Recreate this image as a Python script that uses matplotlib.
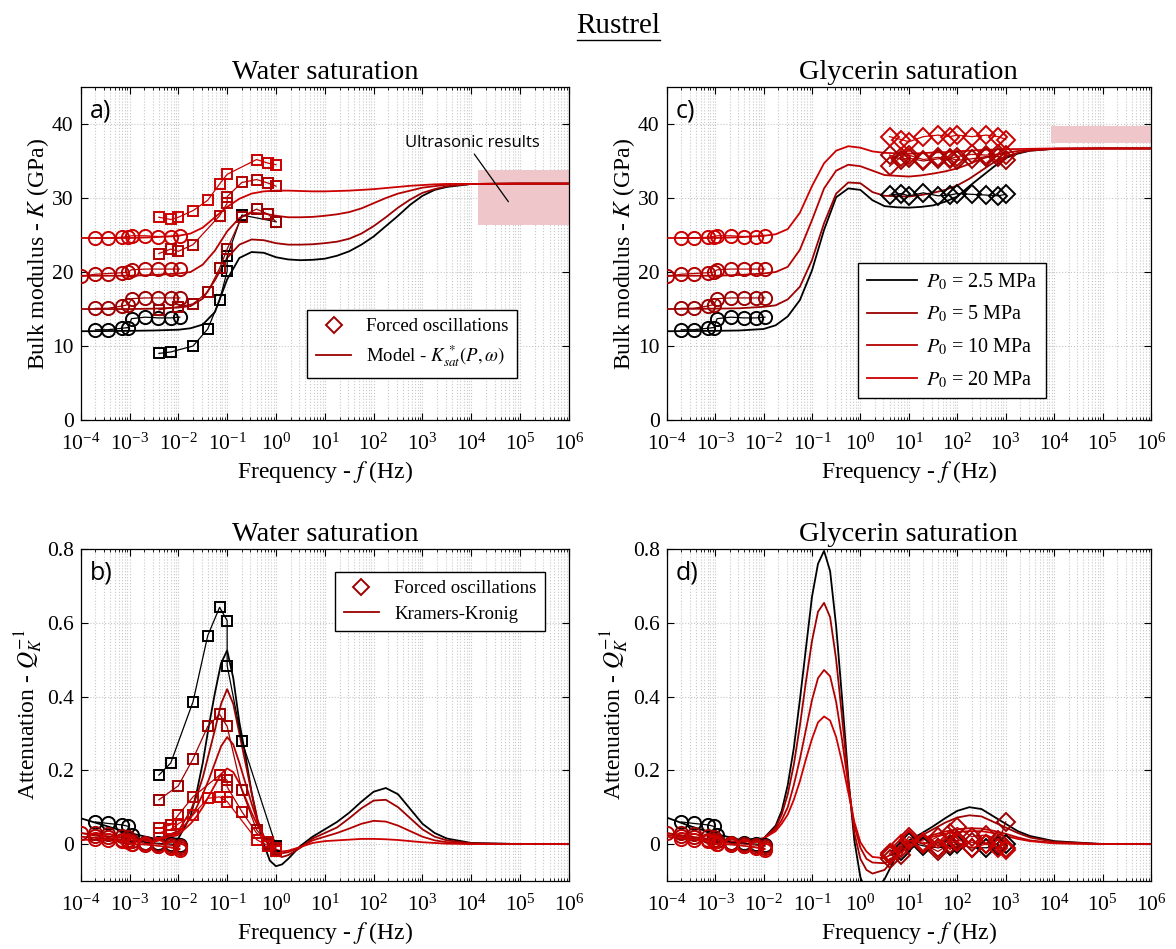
import numpy as np
import matplotlib
matplotlib.use("Agg")
import matplotlib.pyplot as plt
import matplotlib.ticker as ticker
from matplotlib.lines import Line2D
from matplotlib.patches import Rectangle

plt.rcParams["font.family"] = ["Liberation Serif", "DejaVu Serif"]
plt.rcParams["mathtext.fontset"] = "stix"
plt.rcParams["xtick.direction"] = "in"
plt.rcParams["ytick.direction"] = "in"
plt.rcParams["xtick.top"] = True
plt.rcParams["ytick.right"] = True

PRESSURES = ["2.5", "5", "10", "20"]
COLORS = ["#000000", "#9c0000", "#b40000", "#cc0000"]

# ---- model curves (log10 of frequency in Hz) ----
LOGF_K = [-4, -3, -2.5, -2, -1.75, -1.5, -1.25, -1, -0.75, -0.5, -0.25, 0,
          0.25, 0.5, 0.75, 1, 1.25, 1.5, 1.75, 2, 2.25, 2.5, 2.75, 3, 3.25,
          3.5, 4, 5, 6]

K_WATER_MODEL = [
    [12.0, 12.05, 12.1, 12.2, 12.4, 12.9, 14.6, 19.0, 21.9, 22.7, 22.6, 22.0,
     21.7, 21.6, 21.65, 21.8, 22.2, 22.8, 23.7, 24.8, 26.2, 27.6, 29.1, 30.3,
     31.1, 31.5, 31.9, 31.95, 31.95],
    [15.0, 15.0, 15.05, 15.2, 15.4, 16.4, 18.9, 21.9, 23.7, 24.4, 24.3, 23.9,
     23.7, 23.7, 23.75, 23.9, 24.1, 24.5, 25.2, 26.2, 27.4, 28.7, 29.8, 30.7,
     31.2, 31.6, 31.9, 31.95, 31.95],
    [19.5, 19.5, 19.6, 19.8, 20.0, 21.0, 22.9, 25.5, 27.3, 28.0, 27.9, 27.6,
     27.4, 27.4, 27.45, 27.6, 27.8, 28.1, 28.6, 29.3, 30.0, 30.6, 31.0, 31.4,
     31.6, 31.8, 31.9, 31.95, 31.95],
    [24.6, 24.6, 24.7, 24.9, 25.2, 26.0, 27.4, 28.8, 29.9, 30.6, 30.9, 31.0,
     31.0, 30.95, 30.9, 30.9, 30.95, 31.0, 31.1, 31.2, 31.35, 31.5, 31.65, 31.75,
     31.85, 31.9, 31.9, 31.95, 31.95],
]

K_GLYC_MODEL = [
    [12.0, 12.05, 12.1, 12.3, 12.8, 14.0, 16.2, 20.2, 25.7, 30.1, 31.3, 31.1,
     29.7, 28.9, 28.75, 28.7, 28.8, 29.0, 29.5, 30.2, 31.6, 32.9, 34.2, 35.4,
     36.0, 36.4, 36.65, 36.7, 36.7],
    [15.0, 15.05, 15.1, 15.3, 15.5, 16.3, 18.0, 21.6, 26.6, 30.6, 32.1, 32.0,
     30.8, 30.3, 30.25, 30.2, 30.4, 30.7, 31.1, 31.7, 32.6, 33.7, 34.8, 35.6,
     36.1, 36.4, 36.65, 36.7, 36.7],
    [19.5, 19.5, 19.6, 19.8, 20.0, 20.7, 23.0, 27.0, 31.3, 33.7, 34.5, 34.3,
     33.7, 33.1, 33.0, 32.9, 33.05, 33.3, 33.6, 34.0, 34.6, 35.3, 35.8, 36.1,
     36.35, 36.5, 36.65, 36.7, 36.7],
    [24.6, 24.6, 24.7, 24.9, 25.1, 25.8, 28.0, 31.6, 34.7, 36.4, 37.0, 36.8,
     36.3, 36.1, 36.05, 36.0, 36.05, 36.15, 36.2, 36.3, 36.4, 36.5, 36.55, 36.6,
     36.62, 36.65, 36.7, 36.7, 36.7],
]

LOGF_Q = [-4, -3.5, -3, -2.5, -2, -1.75, -1.625, -1.5, -1.375, -1.25, -1.125,
          -1, -0.875, -0.75, -0.625, -0.5, -0.375, -0.25, -0.125, 0, 0.125,
          0.25, 0.5, 0.75, 1, 1.25, 1.5, 1.75, 2, 2.25, 2.5, 2.75, 3, 3.25,
          3.5, 4, 5, 6]

Q_WATER_MODEL = [
    [0.07, 0.05, 0.03, 0.015, 0.015, 0.075, 0.14, 0.22, 0.32, 0.41, 0.49,
     0.525, 0.45, 0.33, 0.24, 0.14, 0.06, 0.0, -0.045, -0.06, -0.055,
     -0.04, -0.005, 0.02, 0.04, 0.06, 0.085, 0.115, 0.142, 0.152, 0.135,
     0.095, 0.055, 0.03, 0.015, 0.003, 0.0, 0.0],
    [0.03, 0.022, 0.015, 0.01, 0.035, 0.09, 0.13, 0.18, 0.245, 0.31, 0.38,
     0.42, 0.38, 0.30, 0.22, 0.14, 0.065, 0.02, -0.01, -0.03, -0.035,
     -0.03, -0.01, 0.015, 0.03, 0.045, 0.07, 0.097, 0.118, 0.12, 0.10,
     0.07, 0.04, 0.02, 0.01, 0.002, 0.0, 0.0],
    [0.02, 0.015, 0.01, 0.008, 0.03, 0.07, 0.10, 0.135, 0.175, 0.22, 0.265,
     0.29, 0.27, 0.22, 0.165, 0.11, 0.06, 0.02, -0.005, -0.02, -0.025,
     -0.022, -0.008, 0.01, 0.02, 0.03, 0.042, 0.055, 0.063, 0.061, 0.05,
     0.035, 0.02, 0.01, 0.005, 0.001, 0.0, 0.0],
    [0.012, 0.01, 0.008, 0.006, 0.025, 0.055, 0.075, 0.10, 0.13, 0.16, 0.19,
     0.205, 0.195, 0.165, 0.125, 0.085, 0.05, 0.02, -0.002, -0.015, -0.02,
     -0.018, -0.008, 0.003, 0.008, 0.01, 0.012, 0.014, 0.014, 0.013, 0.011,
     0.008, 0.005, 0.003, 0.001, 0.0, 0.0, 0.0],
]

Q_GLYC_MODEL = [
    [0.072, 0.048, 0.028, 0.012, 0.015, 0.05, 0.09, 0.16, 0.26, 0.39, 0.53,
     0.67, 0.76, 0.795, 0.74, 0.59, 0.39, 0.18, 0.01, -0.09, -0.13,
     -0.135, -0.095, -0.03, 0.01, 0.028, 0.048, 0.07, 0.09, 0.1, 0.095,
     0.075, 0.055, 0.035, 0.022, 0.008, 0.0, 0.0],
    [0.03, 0.02, 0.012, 0.006, 0.015, 0.045, 0.08, 0.135, 0.215, 0.32, 0.44,
     0.55, 0.63, 0.654, 0.615, 0.50, 0.34, 0.17, 0.03, -0.04, -0.07,
     -0.08, -0.07, -0.03, 0.005, 0.022, 0.04, 0.058, 0.072, 0.078, 0.075,
     0.06, 0.045, 0.03, 0.018, 0.006, 0.0, 0.0],
    [0.025, 0.015, 0.008, 0.004, 0.015, 0.04, 0.065, 0.10, 0.16, 0.23, 0.31,
     0.39, 0.45, 0.472, 0.455, 0.385, 0.28, 0.16, 0.05, -0.01, -0.04,
     -0.05, -0.052, -0.03, 0.0, 0.013, 0.025, 0.034, 0.04, 0.043, 0.042,
     0.036, 0.028, 0.018, 0.01, 0.003, 0.0, 0.0],
    [0.02, 0.012, 0.007, 0.003, 0.015, 0.035, 0.055, 0.08, 0.12, 0.17, 0.23,
     0.285, 0.33, 0.346, 0.335, 0.29, 0.22, 0.14, 0.06, 0.005, -0.02,
     -0.035, -0.038, -0.02, 0.0, 0.01, 0.02, 0.028, 0.033, 0.035, 0.035,
     0.03, 0.022, 0.014, 0.008, 0.002, 0.0, 0.0],
]

# ---- low-frequency measurements (circles) ----
F_CIRC = [
    [2e-4, 3.6e-4, 7e-4, 9.5e-4, 1.1e-3, 2.1e-3, 3.9e-3, 7e-3, 1.07e-2],
    [2e-4, 3.6e-4, 7e-4, 9.5e-4, 1.1e-3, 2.1e-3, 3.9e-3, 7e-3, 1.07e-2],
    [1e-4, 2e-4, 3.6e-4, 7e-4, 9.5e-4, 1.1e-3, 2.1e-3, 3.9e-3, 7e-3, 1.07e-2],
    [2e-4, 3.6e-4, 7e-4, 9.5e-4, 1.1e-3, 2.1e-3, 3.9e-3, 7e-3, 1.07e-2],
]
K_CIRC = [
    [12.2, 12.2, 12.4, 12.5, 13.7, 13.9, 13.8, 13.8, 13.9],
    [15.1, 15.1, 15.4, 15.6, 16.4, 16.5, 16.5, 16.5, 16.5],
    [19.4, 19.7, 19.8, 19.9, 20.0, 20.3, 20.4, 20.4, 20.4, 20.4],
    [24.6, 24.6, 24.7, 24.8, 24.9, 24.9, 24.8, 24.8, 24.9],
]
Q_CIRC = [
    [0.06, 0.056, 0.052, 0.048, 0.025, 0.004, 0.002, 0.0, -0.003],
    [0.03, 0.027, 0.022, 0.018, 0.008, 0.002, 0.0, -0.003, -0.006],
    [0.03, 0.022, 0.018, 0.012, 0.01, 0.0, -0.002, -0.005, -0.008, -0.012],
    [0.015, 0.012, 0.008, 0.005, 0.0, 0.0, -0.005, -0.01, -0.015],
]

# ---- water forced oscillations (squares) ----
F_SQ = [
    [0.004, 0.007, 0.02, 0.04, 0.07, 0.1, 0.1, 0.2, 1.0],
    [0.004, 0.01, 0.02, 0.04, 0.07, 0.1, 0.2, 0.4, 0.7, 1.0],
    [0.004, 0.007, 0.01, 0.02, 0.07, 0.1, 0.1, 0.2, 0.4, 0.7, 1.0],
    [0.004, 0.007, 0.01, 0.02, 0.04, 0.07, 0.1, 0.4, 0.7, 1.0],
]
K_SQ = [
    [9.0, 9.2, 10.0, 12.3, 16.2, 20.1, 22.1, 27.7, 26.8],
    [14.9, 15.3, 15.7, 17.3, 20.5, 23.1, 27.5, 28.5, 27.8, 26.8],
    [22.5, 23.1, 22.8, 23.7, 27.6, 29.3, 30.2, 32.1, 32.5, 32.0, 31.6],
    [27.4, 27.1, 27.4, 28.3, 29.7, 31.9, 33.2, 35.2, 34.7, 34.5],
]
Q_SQ = [
    [0.187, 0.22, 0.386, 0.565, 0.642, 0.606, 0.484, 0.28, -0.005],
    [0.12, 0.158, 0.231, 0.319, 0.352, 0.319, 0.146, 0.039, 0.0, -0.015],
    [0.043, 0.052, 0.079, 0.128, 0.187, 0.173, 0.155, 0.088, 0.03, 0.005, -0.01],
    [0.03, 0.04, 0.055, 0.079, 0.124, 0.128, 0.115, 0.012, -0.005, -0.02],
]

# ---- glycerin forced oscillations (diamonds) ----
F_DIA = [4, 7, 10, 20, 40, 70, 100, 200, 400, 700, 1000]
K_DIA = [
    [30.4, 30.6, 30.3, 30.7, 30.3, 30.4, 30.6, 30.5, 30.4, 30.3, 30.5],
    [35.8, 35.2, 35.4, 35.0, 35.3, 35.4, 35.1, 35.3, 35.6, 35.6, 35.2],
    [34.3, 35.6, 35.8, 35.2, 35.5, 35.3, 35.6, 35.9, 35.8, 35.9, 35.8],
    [38.3, 37.9, 37.6, 38.3, 38.5, 38.3, 38.5, 38.3, 38.5, 38.3, 37.9],
]
Q_DIA = [
    [-0.03, -0.02, 0.005, -0.005, -0.01, -0.005, 0.0, -0.01, -0.01, -0.005, 0.0],
    [-0.04, -0.03, 0.01, 0.0, -0.02, 0.0, 0.01, 0.005, 0.0, 0.0, 0.06],
    [-0.025, -0.01, 0.02, 0.0, 0.02, 0.03, 0.045, 0.02, 0.025, 0.01, -0.01],
    [-0.03, 0.0, 0.01, 0.005, -0.01, 0.01, 0.005, -0.01, 0.0, -0.01, -0.015],
]

# ultrasonic ranges (Hz, GPa)
US_WATER = (1.4e4, 1e6, 26.4, 33.8)
US_GLYC = (8.7e3, 1e6, 37.4, 39.7)

GRID_C = "#c8c8c8"
BOX_C = "#efc6c9"


def style_axes(ax, ylim, yticks, ylabel, title, letter):
    ax.set_xscale("log")
    ax.set_xlim(1e-4, 1e6)
    ax.set_ylim(*ylim)
    ax.set_yticks(yticks)
    ax.yaxis.set_major_formatter(ticker.FormatStrFormatter("%g"))
    ax.xaxis.set_major_locator(ticker.LogLocator(base=10, numticks=20))
    ax.xaxis.set_minor_locator(ticker.LogLocator(base=10, subs=np.arange(2, 10), numticks=20))
    ax.xaxis.set_minor_formatter(ticker.NullFormatter())
    ax.grid(True, which="both", axis="x", linestyle=":", color=GRID_C, linewidth=0.8)
    ax.grid(True, which="major", axis="y", linestyle=":", color=GRID_C, linewidth=0.8)
    ax.set_axisbelow(True)
    ax.tick_params(which="major", length=5, width=0.8, labelsize=15.5)
    ax.tick_params(which="minor", length=2.5, width=0.6)
    ax.tick_params(axis="x", pad=10)
    ax.tick_params(axis="y", pad=5)
    ax.set_xlabel("Frequency - $f$ (Hz)", fontsize=17, labelpad=3)
    ax.set_ylabel(ylabel, fontsize=17, labelpad=1)
    ax.set_title(title, fontsize=20.5, pad=6)
    ax.text(0.018, 0.965, letter, transform=ax.transAxes, ha="left", va="top",
            fontsize=18, family=["Open Sans", "DejaVu Sans"])
    for s in ax.spines.values():
        s.set_linewidth(0.9)


def draw_models(ax, logf, curves):
    f = 10.0 ** np.array(logf)
    for y, c in zip(curves, COLORS):
        ax.plot(f, y, color=c, linewidth=1.3, zorder=3, solid_joinstyle="round")


def draw_data(ax, fs, ys, marker, ms):
    for f, y, c in zip(fs, ys, COLORS):
        ax.plot(f, y, color=c, linewidth=0.9, marker=marker, markersize=ms,
                markerfacecolor="none", markeredgewidth=1.4, zorder=4)


fig = plt.figure(figsize=(11.76, 9.49), dpi=100)
ax_a = fig.add_axes([0.0686, 0.5574, 0.4152, 0.3509])
ax_c = fig.add_axes([0.5669, 0.5574, 0.4118, 0.3509])
ax_b = fig.add_axes([0.0686, 0.0717, 0.4152, 0.3498])
ax_d = fig.add_axes([0.5669, 0.0717, 0.4118, 0.3498])

k_label = "Bulk modulus - $K$ (GPa)"
q_label = "Attenuation - $Q_K^{-1}$"
style_axes(ax_a, (0, 45), [0, 10, 20, 30, 40], k_label, "Water saturation", "a)")
style_axes(ax_c, (0, 45), [0, 10, 20, 30, 40], k_label, "Glycerin saturation", "c)")
style_axes(ax_b, (-0.1, 0.8), [0, 0.2, 0.4, 0.6, 0.8], q_label, "Water saturation", "b)")
style_axes(ax_d, (-0.1, 0.8), [0, 0.2, 0.4, 0.6, 0.8], q_label, "Glycerin saturation", "d)")

# ultrasonic boxes
for ax, (x0, x1, y0, y1) in [(ax_a, US_WATER), (ax_c, US_GLYC)]:
    ax.add_patch(Rectangle((x0, y0), x1 - x0, y1 - y0, facecolor=BOX_C,
                           edgecolor="none", zorder=2))

# panel a
draw_models(ax_a, LOGF_K, K_WATER_MODEL)
draw_data(ax_a, F_CIRC, K_CIRC, "o", 9.5)
draw_data(ax_a, F_SQ, K_SQ, "s", 7)
ax_a.annotate("Ultrasonic results", xy=(10 ** 4.76, 29.5), xytext=(10 ** 4.02, 37.4),
              ha="center", va="center", fontsize=12, family=["Open Sans", "DejaVu Sans"],
              arrowprops=dict(arrowstyle="-", color="black", lw=0.9,
                              shrinkA=0, shrinkB=0, relpos=(0.5, 0.0)))
leg_a = [Line2D([], [], marker="D", color=COLORS[1], linestyle="none",
                markerfacecolor="none", markersize=8, markeredgewidth=1.4),
         Line2D([], [], color=COLORS[1], linewidth=1.3)]
ax_a.legend(leg_a, ["Forced oscillations", r"Model - $K_{sat}^{\,*}(P,\omega)$"],
            loc="lower right", bbox_to_anchor=(0.894, 0.127), fontsize=13.5,
            fancybox=False, edgecolor="black", framealpha=1, handlelength=1.9,
            borderpad=0.45, labelspacing=0.45, borderaxespad=0)

# panel c
draw_models(ax_c, LOGF_K, K_GLYC_MODEL)
draw_data(ax_c, F_CIRC, K_CIRC, "o", 9.5)
draw_data(ax_c, [F_DIA] * 4, K_DIA, "D", 9)
leg_c = [Line2D([], [], color=c, linewidth=1.3) for c in COLORS]
ax_c.legend(leg_c, ["$P_0$ = %s MPa" % p for p in PRESSURES],
            loc="lower left", bbox_to_anchor=(0.396, 0.065), fontsize=14.5,
            fancybox=False, edgecolor="black", framealpha=1, handlelength=2.5,
            handletextpad=0.45, borderpad=0.4, labelspacing=0.6, borderaxespad=0)

# panel b
draw_models(ax_b, LOGF_Q, Q_WATER_MODEL)
draw_data(ax_b, F_CIRC, Q_CIRC, "o", 9.5)
draw_data(ax_b, F_SQ, Q_SQ, "s", 7)
ax_b.legend(leg_a, ["Forced oscillations", "Kramers-Kronig"],
            loc="upper right", bbox_to_anchor=(0.951, 0.932), fontsize=13.5,
            fancybox=False, edgecolor="black", framealpha=1, handlelength=1.9,
            borderpad=0.45, labelspacing=0.45, borderaxespad=0)

# panel d
draw_models(ax_d, LOGF_Q, Q_GLYC_MODEL)
draw_data(ax_d, F_CIRC, Q_CIRC, "o", 9.5)
draw_data(ax_d, [F_DIA] * 4, Q_DIA, "D", 9)

# main title, underlined
fig.text(0.5255, 0.973, "Rustrel", ha="center", va="center", fontsize=21)
fig.add_artist(Line2D([0.4906, 0.5612], [0.9575, 0.9575], color="black",
                      linewidth=1.0, transform=fig.transFigure))

fig.savefig("out.png", dpi=100)
